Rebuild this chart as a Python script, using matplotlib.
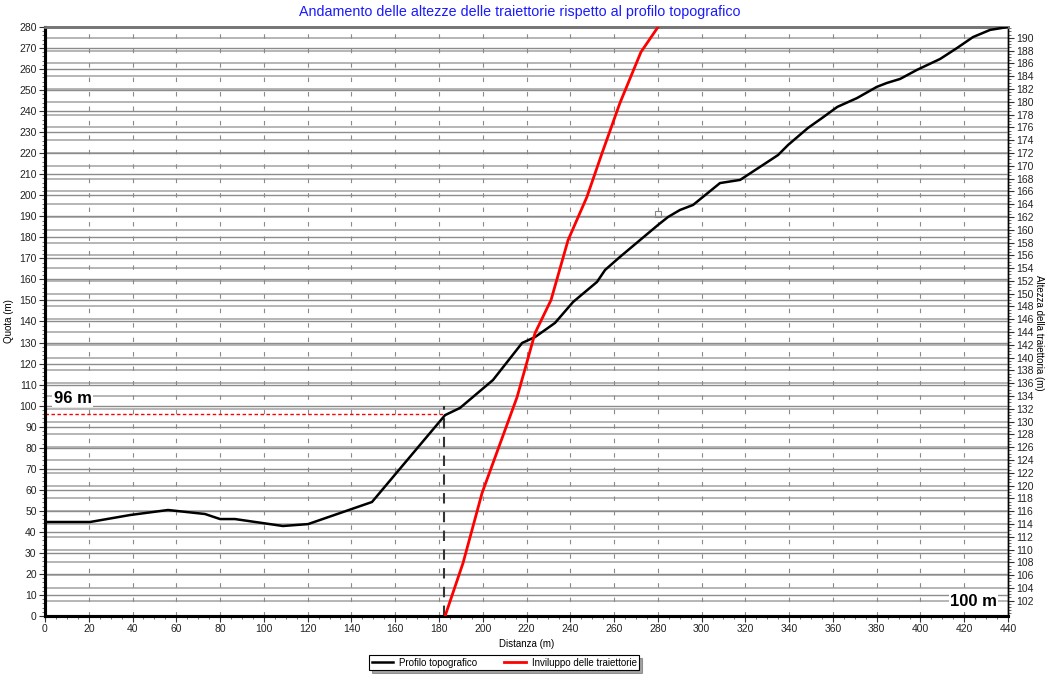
import numpy as np
import matplotlib
matplotlib.use("Agg")
import matplotlib.pyplot as plt
from matplotlib.ticker import MultipleLocator

plt.rcParams['font.family'] = ['Liberation Sans', 'DejaVu Sans']

# Profilo topografico (distanza m, quota m)
profile_x = [0, 20.6, 38.8, 56.2, 73.1, 80, 86.8, 108.7, 120.2, 149.4, 171.3, 182.8,
             189.6, 204.7, 218, 223.9, 233, 241.3, 252.2, 255.9, 262.7, 280.1, 284.7,
             290.1, 296.1, 308.4, 317.6, 334.9, 339.5, 348.6, 355, 362, 371, 380,
             384.7, 390.7, 398.4, 409, 416.7, 424, 431.8, 440]
profile_y = [44.7, 44.7, 48, 50.4, 48.5, 46.1, 46.1, 42.8, 43.7, 54.2, 81.3, 95.5,
             98.9, 112.2, 129.8, 132.6, 139.3, 149.3, 158.8, 164.5, 170.7, 185.9, 189.7,
             193, 195.4, 205.8, 207.3, 219.1, 223.9, 232, 236.7, 242, 246.2, 251.5,
             253.4, 255.3, 259.6, 264.8, 270, 275.2, 278.6, 280]

# Inviluppo delle traiettorie
env_x = [182.8, 191.0, 199.7, 215.7, 220.2, 223.9, 231.2, 239.0, 247.6, 254.5, 262.7, 272.3, 280.1]
env_y = [0, 25.2, 58.5, 104.1, 120.7, 134.5, 150.2, 178.7, 199.2, 220, 243.9, 268.1, 280]

limit_x = 182.5
limit_quota = 96
marker_pt = (280, 191.1)

left_ticks = np.arange(0, 281, 10)
right_ticks = np.arange(102, 191, 2)
x_ticks = np.arange(0, 441, 20)

fig = plt.figure(figsize=(10.46, 6.74), dpi=100)
ax = fig.add_axes([0.043, 0.086, 0.9207, 0.874])
ax2 = ax.twinx()
ax.set_zorder(ax2.get_zorder() + 1)
ax.patch.set_visible(False)
ax2.patch.set_facecolor('white')

ax.set_xlim(0, 440)
ax.set_ylim(0, 280)
ax2.set_ylim(99.6, 191.7)

# grids
for v in right_ticks:
    ax2.axhline(v, color='#b0b0b0', lw=1.3, zorder=0)
for v in left_ticks:
    ax.axhline(v, color='#8c8c8c', lw=1.0, zorder=0)
for v in x_ticks[1:-1]:
    ax.axvline(v, color='#8a8a8a', lw=0.8, linestyle=(0, (4, 9)), zorder=0.5)

ax.plot(profile_x, profile_y, color='black', lw=1.8, zorder=3, label='Profilo topografico')
ax.plot(env_x, env_y, color='#ff0000', lw=2.0, zorder=3, label='Inviluppo delle traiettorie')

ax.plot([0, limit_x], [limit_quota, limit_quota], color='#ff0000', lw=1.0,
        linestyle=(0, (2.5, 1.8)), zorder=2)
ax.plot([limit_x, limit_x], [0, 100], color='#333333', lw=1.5,
        linestyle=(0, (5, 4)), zorder=2)
ax.plot(*marker_pt, marker='s', ms=4, mfc='none', mec='#888888', mew=0.8, zorder=2)

ax.text(4, 103.6, '96 m', fontsize=12, fontweight='bold', ha='left', va='center',
        bbox=dict(facecolor='white', edgecolor='none', pad=1), zorder=4)
ax.text(435, 7.1, '100 m', fontsize=12, fontweight='bold', ha='right', va='center',
        bbox=dict(facecolor='white', edgecolor='none', pad=1), zorder=4)

ax.set_xticks(x_ticks)
ax.set_yticks(left_ticks)
ax.xaxis.set_minor_locator(MultipleLocator(5))
ax.yaxis.set_minor_locator(MultipleLocator(2))
ax2.set_yticks(right_ticks)
ax2.yaxis.set_minor_locator(MultipleLocator(0.5))

ax.tick_params(axis='both', which='major', labelsize=7.5, length=4, width=0.8,
               colors='#333333', labelcolor='#222222', pad=2)
ax.tick_params(axis='both', which='minor', length=2, width=0.6, colors='#555555')
ax2.tick_params(axis='y', which='major', labelsize=7.5, length=4, width=0.8,
                colors='#333333', labelcolor='#222222', pad=2)
ax2.tick_params(axis='y', which='minor', length=2, width=0.6, colors='#555555')

for a in (ax, ax2):
    a.spines['left'].set_linewidth(2.2)
    a.spines['bottom'].set_linewidth(2.2)
    a.spines['left'].set_color('black')
    a.spines['bottom'].set_color('black')
    a.spines['top'].set_color('#777777')
    a.spines['top'].set_linewidth(2.0)
    a.spines['right'].set_color('black')
    a.spines['right'].set_linewidth(1.0)

ax.set_xlabel('Distanza (m)', fontsize=7, labelpad=3)
ax.set_ylabel('Quota (m)', fontsize=7, labelpad=4)
ax2.set_ylabel('Altezza della traiettoria (m)', fontsize=7, rotation=-90,
               va='center', ha='center')
ax2.yaxis.set_label_coords(1.0325, 0.48)

fig.suptitle('Andamento delle altezze delle traiettorie rispetto al profilo topografico',
             x=0.497, y=0.993, fontsize=10.3, color='#1a1aff', va='top')

h, l = ax.get_legend_handles_labels()
leg = fig.legend(h, l, loc='center', bbox_to_anchor=(0.482, 0.017), ncol=2,
                 fontsize=7, frameon=True, fancybox=False, shadow=True,
                 edgecolor='black', borderpad=0.25, handlelength=2.2,
                 columnspacing=2.8, handletextpad=0.6)
leg.get_frame().set_linewidth(0.8)

fig.savefig('out.png', dpi=100)
